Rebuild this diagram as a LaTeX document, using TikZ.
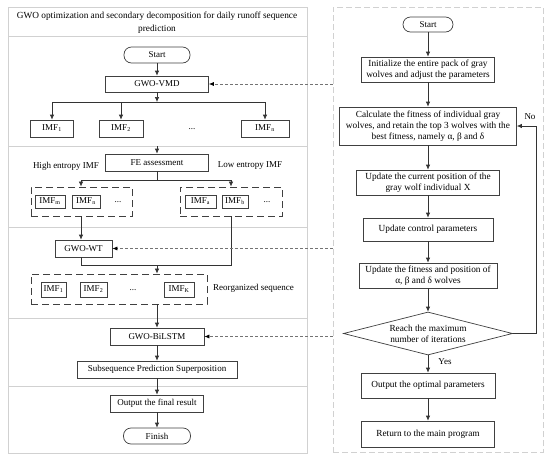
\documentclass[tikz,border=0pt]{standalone}
\usepackage{fontspec}
\setmainfont{Liberation Serif}
\usetikzlibrary{arrows.meta,shapes.geometric}
\begin{document}
\begin{tikzpicture}[x=1pt,y=-1pt,
  every node/.style={font=\fontsize{9}{11}\selectfont},
  box/.style={draw=black!75, line width=0.7pt, fill=white, inner sep=0pt, align=center},
  rbox/.style={box, font=\fontsize{9.3}{11.2}\selectfont},
  term/.style={box, rounded corners=7.5pt},
  grp/.style={draw=black!75, line width=0.9pt, dash pattern=on 7pt off 4pt, inner sep=0pt},
  panel/.style={draw=black!18, line width=0.6pt},
  rpanel/.style={draw=black!18, line width=0.6pt, dash pattern=on 6pt off 3pt, inner sep=0pt},
  arr/.style={draw=black!80, line width=0.7pt, -{Latex[length=5pt,width=4.5pt]}},
  ln/.style={draw=black!80, line width=0.7pt},
  darr/.style={draw=black!55, line width=0.7pt, dash pattern=on 3pt off 2pt, -{Latex[length=5pt,width=4pt,color=black]}},
  lbl/.style={inner sep=0pt, align=center}
]
\useasboundingbox (0,0) rectangle (550,461);
% ---------- panels ----------
\draw[panel] (8,7) rectangle (307,453);
\foreach \yy in {36,146,227,318,386} \draw[panel] (8,\yy) -- (307,\yy);
\node[rpanel, minimum width=210, minimum height=445] (rp) at (438,229.5) {};
\node[lbl, font=\fontsize{9.3}{13}\selectfont] (title) at (157,22.5) {GWO optimization and secondary decomposition for daily runoff sequence\\prediction};
% ---------- left column ----------
\node[term, minimum width=66, minimum height=16] (ls) at (157,55) {Start};
\node[box, minimum width=103, minimum height=16] (vmd) at (157,84) {GWO-VMD};
\coordinate (bus) at (157,102);
\node[box, minimum width=43, minimum height=17] (i1) at (52,128.5) {IMF\textsubscript{1}};
\node[box, minimum width=44, minimum height=17] (i2) at (121,128.5) {IMF\textsubscript{2}};
\node[lbl] (idots) at (192,129) {...};
\node[box, minimum width=48, minimum height=17] (in) at (265,128.5) {IMF\textsubscript{n}};
\coordinate (s1) at (157,146);
\node[box, minimum width=103, minimum height=17] (fe) at (157,162.5) {FE assessment};
\node[lbl] (hi) at (66,166) {High entropy IMF};
\node[lbl] (lo) at (250,166) {Low entropy IMF};
\coordinate (sp) at (157,180);
\coordinate (spL) at (81,180);
\coordinate (spR) at (231,180);
\node[grp, minimum width=101, minimum height=29] (g1) at (81.5,201.5) {};
\node[box, minimum width=30, minimum height=13] (im) at (50,201.5) {IMF\textsubscript{m}};
\node[box, minimum width=28, minimum height=13] (inn) at (86,201.5) {IMF\textsubscript{n}};
\node[lbl] (g1dots) at (118,202) {...};
\node[grp, minimum width=102, minimum height=29] (g2) at (231,201.5) {};
\node[box, minimum width=31, minimum height=13] (ia) at (200.5,201.5) {IMF\textsubscript{a}};
\node[box, minimum width=26, minimum height=13] (ib) at (235,201.5) {IMF\textsubscript{b}};
\node[lbl] (g2dots) at (267,202) {...};
\node[box, minimum width=57, minimum height=17] (wt) at (83.5,248.5) {GWO-WT};
\coordinate (mL) at (81,265);
\coordinate (mC) at (157,265);
\coordinate (mR) at (231,265);
\node[grp, minimum width=176, minimum height=30] (g3) at (119,289) {};
\node[box, minimum width=25, minimum height=15] (r1) at (53.5,289.5) {IMF\textsubscript{1}};
\node[box, minimum width=27, minimum height=15] (r2) at (93.5,289.5) {IMF\textsubscript{2}};
\node[lbl] (g3dots) at (133,290) {...};
\node[box, minimum width=30, minimum height=15] (rk) at (179,289.5) {IMF\textsubscript{K}};
\node[lbl, anchor=west] (reo) at (213,288.5) {Reorganized sequence};
\node[box, minimum width=94, minimum height=17] (bil) at (157,336.5) {GWO-BiLSTM};
\node[box, minimum width=160, minimum height=17] (sub) at (157,369.5) {Subsequence Prediction Superposition};
\node[box, minimum width=93, minimum height=17] (out) at (157,403.5) {Output the final result};
\node[term, minimum width=67, minimum height=16] (fin) at (157,436) {Finish};
% left connectors
\draw[arr] (ls) -- (vmd);
\draw[arr] (vmd.south) -- (bus);
\draw[ln] (i1.north |- bus) -- (in.north |- bus);
\draw[arr] (i1.north |- bus) -- (i1.north);
\draw[arr] (i2.north |- bus) -- (i2.north);
\draw[arr] (in.north |- bus) -- (in.north);
\draw[arr] (s1) -- (fe.north);
\draw[ln] (fe.south) -- (sp);
\draw[ln] (spL) -- (spR);
\draw[arr] (spL) -- (spL |- g1.north);
\draw[arr] (spR) -- (spR |- g2.north);
\draw[arr] (spL |- g1.south) -- (spL |- wt.north);
\draw[ln] (spL |- wt.south) -- (mL) -- (mR) -- (spR |- g2.south);
\draw[arr] (mC) -- (mC |- g3.north);
\draw[arr] (mC |- g3.south) -- (bil.north);
\draw[arr] (bil) -- (sub);
\draw[arr] (sub) -- (out);
\draw[arr] (out) -- (fin);
% ---------- right column ----------
\node[term, minimum width=50, minimum height=15] (rs) at (428,24.5) {Start};
\node[rbox, minimum width=133, minimum height=25] (init) at (428,69.5) {Initialize the entire pack of gray\\wolves and adjust the parameters};
\node[rbox, minimum width=177, minimum height=38] (calc) at (428,126) {Calculate the fitness of individual gray\\wolves, and retain the top 3 wolves with the\\best fitness, namely α, β and δ};
\node[rbox, minimum width=143, minimum height=25] (upos) at (428,182.5) {Update the current position of the\\gray wolf individual X};
\node[rbox, minimum width=130, minimum height=23] (ucp) at (428,229.5) {Update control parameters};
\node[rbox, minimum width=138, minimum height=25] (ufit) at (428,275.5) {Update the fitness and position of\\α, β and δ wolves};
\node[diamond, draw=black!75, line width=0.7pt, fill=white, inner sep=0pt, minimum width=169, minimum height=43] (dia) at (428,333.5) {};
\node[lbl, font=\fontsize{9.3}{11.2}\selectfont] (diat) at (428,333.5) {Reach the maximum\\number of iterations};
\node[rbox, minimum width=134, minimum height=25] (opt) at (428,385.5) {Output the optimal parameters};
\node[rbox, minimum width=133, minimum height=26] (ret) at (428,434) {Return to the main program};
\node[lbl] (no) at (530,117) {No};
\node[lbl] (yes) at (445,362) {Yes};
\coordinate (lp) at (536,126);
% right connectors
\draw[arr] (rs) -- (init);
\draw[arr] (init) -- (calc);
\draw[arr] (calc) -- (upos);
\draw[arr] (upos) -- (ucp);
\draw[arr] (ucp) -- (ufit);
\draw[arr] (ufit) -- (dia.north);
\draw[arr] (dia.south) -- (opt);
\draw[arr] (opt) -- (ret);
\draw[arr] (dia.east) -| (lp) -- (calc.east);
% dashed links
\draw[darr] (rp.west |- vmd.east) -- (vmd.east);
\draw[darr] (rp.west |- wt.east) -- (wt.east);
\draw[darr] (rp.west |- bil.east) -- (bil.east);
\end{tikzpicture}
\end{document}
